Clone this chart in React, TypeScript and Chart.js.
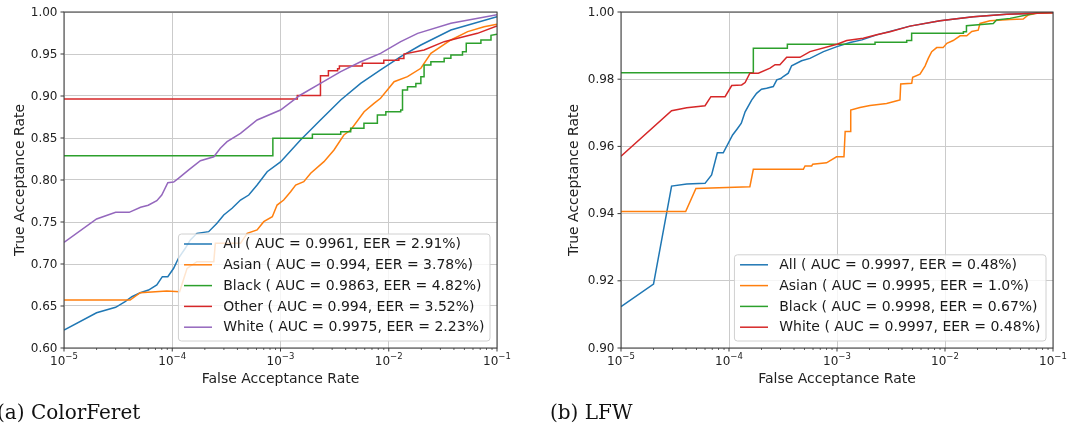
import React, { useEffect, useRef } from 'react';
import { Chart, registerables } from 'chart.js';

Chart.register(...registerables);

// ---------- ColorFeret ROC curves: [false acceptance rate, true acceptance rate] ----------
const cfAll: [number, number][] = [
  [1e-5, 0.6214], [2.0e-5, 0.642], [3.0e-5, 0.6484], [3.67e-5, 0.6551], [4.24e-5, 0.661],
  [5.06e-5, 0.6658], [6.04e-5, 0.669], [7.2e-5, 0.675], [8.1e-5, 0.6849], [9.1e-5, 0.6849],
  [1.03e-4, 0.6949], [1.14e-4, 0.7068], [1.32e-4, 0.7187], [1.47e-4, 0.7286], [1.69e-4, 0.7365],
  [2.17e-4, 0.7385], [2.59e-4, 0.7484], [2.99e-4, 0.7583], [3.57e-4, 0.7663], [4.27e-4, 0.7762],
  [5.09e-4, 0.7821], [6.08e-4, 0.794], [7.53e-4, 0.8099], [1.0e-3, 0.8215], [1.53e-3, 0.8476],
  [2.34e-3, 0.8714], [3.6e-3, 0.8952], [5.5e-3, 0.9151], [8.4e-3, 0.931], [1.29e-2, 0.9468],
  [1.98e-2, 0.9607], [3.75e-2, 0.9786], [1e-1, 0.9944],
];
const cfAsian: [number, number][] = [
  [1e-5, 0.6571], [4.08e-5, 0.6571], [5.06e-5, 0.6658], [8.9e-5, 0.6679], [1.17e-4, 0.667],
  [1.26e-4, 0.68], [1.37e-4, 0.6948], [1.69e-4, 0.7028], [2.42e-4, 0.7028], [2.5e-4, 0.7246],
  [4.27e-4, 0.7246], [4.92e-4, 0.7365], [6.08e-4, 0.7405], [7.0e-4, 0.7504], [8.4e-4, 0.7563],
  [9.3e-4, 0.7702], [1.07e-3, 0.7762], [1.24e-3, 0.7861], [1.38e-3, 0.794], [1.64e-3, 0.798],
  [1.9e-3, 0.808], [2.52e-3, 0.8218], [3.12e-3, 0.8357], [3.85e-3, 0.8536], [4.45e-3, 0.8595],
  [5.92e-3, 0.8813], [7.31e-3, 0.8913], [8.4e-3, 0.8973], [9.7e-3, 0.9071], [1.12e-2, 0.917],
  [1.49e-2, 0.923], [1.98e-2, 0.933], [2.45e-2, 0.9508], [3.75e-2, 0.9667], [5.36e-2, 0.9766],
  [7.6e-2, 0.9825], [1e-1, 0.9855],
];
const cfBlack: [number, number][] = [
  [1e-5, 0.8289], [8.5e-4, 0.8289], [8.5e-4, 0.8496], [1.97e-3, 0.8496], [1.97e-3, 0.8544],
  [3.6e-3, 0.8544], [3.6e-3, 0.8575], [4.45e-3, 0.8575], [4.45e-3, 0.8615], [5.9e-3, 0.8615],
  [5.9e-3, 0.8675], [7.85e-3, 0.8675], [7.85e-3, 0.8774], [9.4e-3, 0.8774], [9.4e-3, 0.8813],
  [1.29e-2, 0.8813], [1.29e-2, 0.8833], [1.34e-2, 0.8833], [1.34e-2, 0.9071], [1.49e-2, 0.9071],
  [1.49e-2, 0.9111], [1.78e-2, 0.9111], [1.78e-2, 0.915], [1.98e-2, 0.915], [1.98e-2, 0.923],
  [2.12e-2, 0.923], [2.12e-2, 0.9369], [2.45e-2, 0.9369], [2.45e-2, 0.9409], [3.25e-2, 0.9409],
  [3.25e-2, 0.9448], [3.75e-2, 0.9448], [3.75e-2, 0.9488], [4.8e-2, 0.9488], [4.8e-2, 0.9527],
  [5.2e-2, 0.9527], [5.2e-2, 0.9627], [7.1e-2, 0.9627], [7.1e-2, 0.9667], [8.8e-2, 0.9667],
  [8.8e-2, 0.9722], [1e-1, 0.9734],
];
const cfOther: [number, number][] = [
  [1e-5, 0.8964], [1.43e-3, 0.8964], [1.43e-3, 0.9005], [2.34e-3, 0.9005], [2.34e-3, 0.924],
  [2.77e-3, 0.924], [2.77e-3, 0.93], [3.37e-3, 0.93], [3.37e-3, 0.9325], [3.5e-3, 0.9325],
  [3.5e-3, 0.9357], [5.7e-3, 0.9357], [5.7e-3, 0.939], [9.0e-3, 0.939], [9.0e-3, 0.9425],
  [1.24e-2, 0.9425], [1.24e-2, 0.9445], [1.38e-2, 0.9445], [1.38e-2, 0.95], [2.12e-2, 0.9548],
  [3.25e-2, 0.9647], [4.33e-2, 0.9687], [6.6e-2, 0.9746], [1e-1, 0.9833],
];
const cfWhite: [number, number][] = [
  [1e-5, 0.7258], [2.0e-5, 0.7536], [3.0e-5, 0.7615], [4.0e-5, 0.7615], [5.1e-5, 0.7675],
  [6.0e-5, 0.7699], [7.2e-5, 0.7754], [8.0e-5, 0.7821], [9.1e-5, 0.7968], [1.03e-4, 0.7976],
  [1.14e-4, 0.802], [1.42e-4, 0.812], [1.82e-4, 0.823], [2.42e-4, 0.8277], [2.78e-4, 0.8377],
  [3.21e-4, 0.8456], [4.27e-4, 0.8556], [6.08e-4, 0.8714], [1.0e-3, 0.8833], [1.53e-3, 0.9012],
  [2.34e-3, 0.915], [3.6e-3, 0.929], [5.5e-3, 0.9408], [8.4e-3, 0.9508], [1.29e-2, 0.9647],
  [1.85e-2, 0.9746], [3.75e-2, 0.9865], [1e-1, 0.9968],
];

const cfGroups = ['All', 'Asian', 'Black', 'Other', 'White'];
const cfAuc = ['0.9961', '0.994', '0.9863', '0.994', '0.9975'];
const cfEer = ['2.91', '3.78', '4.82', '3.52', '2.23'];
const cfTarTicks = [0.6, 0.65, 0.7, 0.75, 0.8, 0.85, 0.9, 0.95, 1.0];

// ---------- LFW ROC curves ----------
const lfwAll: [number, number][] = [
  [1e-5, 0.9123], [2.0e-5, 0.919], [2.94e-5, 0.9482], [4.06e-5, 0.9488], [6.0e-5, 0.9490],
  [6.9e-5, 0.9515], [7.8e-5, 0.9581], [8.85e-5, 0.9581], [1.08e-4, 0.9634], [1.19e-4, 0.9652],
  [1.3e-4, 0.9669], [1.41e-4, 0.9703], [1.62e-4, 0.9738], [1.8e-4, 0.9758], [2.0e-4, 0.977],
  [2.23e-4, 0.9773], [2.57e-4, 0.9778], [2.77e-4, 0.9798], [3.02e-4, 0.9802], [3.18e-4, 0.9808],
  [3.54e-4, 0.9818], [3.8e-4, 0.9840], [4.7e-4, 0.9855], [5.62e-4, 0.9862], [7.5e-4, 0.9882],
  [1.0e-3, 0.9897], [1.32e-3, 0.9909], [1.7e-3, 0.9917], [2.33e-3, 0.9932], [4.74e-3, 0.9958],
  [9.0e-3, 0.9974], [1.83e-2, 0.9986], [3.72e-2, 0.9993], [1e-1, 0.9998],
];
const lfwAsian: [number, number][] = [
  [1e-5, 0.9406], [3.97e-5, 0.9406], [4.94e-5, 0.9475], [1.56e-4, 0.948], [1.68e-4, 0.9532],
  [4.88e-4, 0.9532], [5.06e-4, 0.9542], [5.83e-4, 0.9542], [5.96e-4, 0.9547], [8.0e-4, 0.9551],
  [9.9e-4, 0.9569], [1.16e-3, 0.9569], [1.19e-3, 0.9644], [1.32e-3, 0.9644], [1.34e-3, 0.9708],
  [1.63e-3, 0.9716], [2.02e-3, 0.9722], [2.88e-3, 0.9728], [3.52e-3, 0.9735], [3.83e-3, 0.9738],
  [3.89e-3, 0.9786], [4.92e-3, 0.9788], [5.02e-3, 0.9806], [5.87e-3, 0.9815], [6.53e-3, 0.9839],
  [7.0e-3, 0.9862], [7.53e-3, 0.9882], [8.38e-3, 0.9894], [9.6e-3, 0.9894], [1.04e-2, 0.9907],
  [1.19e-2, 0.9915], [1.38e-2, 0.9929], [1.59e-2, 0.9929], [1.77e-2, 0.9942], [2.03e-2, 0.9946],
  [2.11e-2, 0.9966], [2.61e-2, 0.9974], [4.0e-2, 0.9978], [5.3e-2, 0.9979], [5.9e-2, 0.9991],
  [7.06e-2, 0.9996], [1e-1, 0.9998],
];
const lfwBlack: [number, number][] = [
  [1e-5, 0.9819], [1.68e-4, 0.9819], [1.68e-4, 0.9892], [3.47e-4, 0.9892], [3.47e-4, 0.9904],
  [2.25e-3, 0.9904], [2.25e-3, 0.991], [4.42e-3, 0.991], [4.42e-3, 0.9915], [4.91e-3, 0.9915],
  [4.91e-3, 0.9937], [1.48e-2, 0.9937], [1.48e-2, 0.9941], [1.58e-2, 0.9941], [1.58e-2, 0.9959],
  [2.8e-2, 0.9966], [3.0e-2, 0.9976], [4.0e-2, 0.9981], [6.8e-2, 0.9996], [7.3e-2, 1.0],
  [1e-1, 1.0],
];
const lfwWhite: [number, number][] = [
  [1e-5, 0.9571], [2.94e-5, 0.9706], [4.06e-5, 0.9715], [6.0e-5, 0.9721], [6.8e-5, 0.9748],
  [9.2e-5, 0.9748], [1.06e-4, 0.9781], [1.31e-4, 0.9783], [1.41e-4, 0.979], [1.56e-4, 0.9818],
  [1.87e-4, 0.9818], [2.4e-4, 0.9833], [2.67e-4, 0.9843], [2.96e-4, 0.9843], [3.42e-4, 0.9865],
  [4.54e-4, 0.9865], [5.62e-4, 0.9882], [1.0e-3, 0.9904], [1.23e-3, 0.9915], [1.75e-3, 0.9922],
  [2.33e-3, 0.9932], [3.1e-3, 0.9941], [4.74e-3, 0.9958], [9.0e-3, 0.9974], [1.83e-2, 0.9986],
  [3.72e-2, 0.9993], [1e-1, 0.9998],
];

const lfwGroups = ['All', 'Asian', 'Black', 'White'];
const lfwAuc = ['0.9997', '0.9995', '0.9998', '0.9997'];
const lfwEer = ['0.48', '1.0', '0.67', '0.48'];
const lfwTarTicks = [0.9, 0.92, 0.94, 0.96, 0.98, 1.0];

const farExponents = [-5, -4, -3, -2, -1];

// ---------- styling ----------
const BLUE = '#1f77b4';
const ORANGE = '#ff7f0e';
const GREEN = '#2ca02c';
const RED = '#d62728';
const PURPLE = '#9467bd';
const GRID = '#cbcbcb';
const SANS = '"DejaVu Sans", sans-serif';
const SERIF = '"DejaVu Serif", serif';

type Series = { label: string; color: string; points: [number, number][] };

type Decor = {
  yTicks: number[];
  yTitleGap: number;
  caption: string;
  captionX: number;
};

const isDecade = (v: number) => {
  if (!(v > 0)) return false;
  const l = Math.log10(v);
  return Math.abs(l - Math.round(l)) < 1e-6;
};

const decorPlugin = {
  id: 'decor',
  afterDatasetsDraw(chart: any, _args: any, opts: Decor) {
    const ctx: CanvasRenderingContext2D = chart.ctx;
    const { left, right, top, bottom } = chart.chartArea;
    const xs = chart.scales.x;
    const ys = chart.scales.y;
    ctx.save();

    // axes frame
    ctx.strokeStyle = '#3a3a3a';
    ctx.lineWidth = 1;
    ctx.strokeRect(left, top, right - left, bottom - top);

    // y ticks and labels
    ctx.fillStyle = '#222';
    ctx.font = `12px ${SANS}`;
    ctx.textAlign = 'right';
    ctx.textBaseline = 'middle';
    for (const v of opts.yTicks) {
      const py = ys.getPixelForValue(v);
      ctx.beginPath();
      ctx.moveTo(left - 3.5, py);
      ctx.lineTo(left, py);
      ctx.stroke();
      ctx.fillText(v.toFixed(2), left - 6.5, py + 0.5);
    }

    // x ticks (major + minor) and labels 10^k
    for (let i = 0; i < farExponents.length; i++) {
      const e = farExponents[i];
      const px = xs.getPixelForValue(Math.pow(10, e));
      ctx.lineWidth = 1;
      ctx.beginPath();
      ctx.moveTo(px, bottom);
      ctx.lineTo(px, bottom + 3.5);
      ctx.stroke();
      if (i < farExponents.length - 1) {
        ctx.lineWidth = 0.8;
        for (let k = 2; k <= 9; k++) {
          const pm = xs.getPixelForValue(k * Math.pow(10, e));
          ctx.beginPath();
          ctx.moveTo(pm, bottom);
          ctx.lineTo(pm, bottom + 2);
          ctx.stroke();
        }
      }
      const base = '10';
      const sup = '\u2212' + String(Math.abs(e));
      ctx.font = `12px ${SANS}`;
      const wb = ctx.measureText(base).width;
      ctx.font = `8.5px ${SANS}`;
      const ws = ctx.measureText(sup).width;
      const x0 = px - (wb + ws) / 2;
      ctx.textAlign = 'left';
      ctx.textBaseline = 'alphabetic';
      ctx.font = `12px ${SANS}`;
      ctx.fillText(base, x0, bottom + 17);
      ctx.font = `8.5px ${SANS}`;
      ctx.fillText(sup, x0 + wb, bottom + 10.5);
    }

    // axis titles
    ctx.font = `14px ${SANS}`;
    ctx.textAlign = 'center';
    ctx.textBaseline = 'alphabetic';
    ctx.fillStyle = '#222';
    ctx.fillText('False Acceptance Rate', (left + right) / 2, bottom + 34.5);
    ctx.save();
    ctx.translate(left - opts.yTitleGap, (top + bottom) / 2);
    ctx.rotate(-Math.PI / 2);
    ctx.fillText('True Acceptance Rate', 0, 0);
    ctx.restore();

    // legend, lower right inside the axes
    const fs = 14;
    ctx.font = `${fs}px ${SANS}`;
    const items = chart.data.datasets.map((d: any) => ({ label: d.label as string, color: d.borderColor as string }));
    const maxW = Math.max(...items.map((it: any) => ctx.measureText(it.label).width));
    const pad = 0.4 * fs;
    const handle = 2 * fs;
    const gap = 0.8 * fs;
    const rowH = 20.8;
    const boxW = pad + handle + gap + maxW + pad;
    const boxH = items.length * rowH + 3;
    const bx = right - 0.5 * fs - boxW;
    const by = bottom - 0.5 * fs - boxH;
    const r = 3;
    ctx.beginPath();
    ctx.moveTo(bx + r, by);
    ctx.lineTo(bx + boxW - r, by);
    ctx.quadraticCurveTo(bx + boxW, by, bx + boxW, by + r);
    ctx.lineTo(bx + boxW, by + boxH - r);
    ctx.quadraticCurveTo(bx + boxW, by + boxH, bx + boxW - r, by + boxH);
    ctx.lineTo(bx + r, by + boxH);
    ctx.quadraticCurveTo(bx, by + boxH, bx, by + boxH - r);
    ctx.lineTo(bx, by + r);
    ctx.quadraticCurveTo(bx, by, bx + r, by);
    ctx.closePath();
    ctx.fillStyle = 'rgba(255,255,255,0.8)';
    ctx.fill();
    ctx.strokeStyle = '#d0d0d0';
    ctx.lineWidth = 1;
    ctx.stroke();
    ctx.textAlign = 'left';
    ctx.textBaseline = 'middle';
    items.forEach((it: any, i: number) => {
      const cy = by + 10 + i * rowH;
      ctx.strokeStyle = it.color;
      ctx.lineWidth = 1.5;
      ctx.beginPath();
      ctx.moveTo(bx + pad, cy);
      ctx.lineTo(bx + pad + handle, cy);
      ctx.stroke();
      ctx.fillStyle = '#1a1a1a';
      ctx.fillText(it.label, bx + pad + handle + gap, cy + 0.5);
    });

    // subfigure caption
    ctx.font = `20px ${SERIF}`;
    ctx.fillStyle = '#111';
    ctx.textAlign = 'left';
    ctx.textBaseline = 'alphabetic';
    ctx.fillText(opts.caption, opts.captionX, 418.5);

    ctx.restore();
  },
};

type RocProps = {
  series: Series[];
  yMin: number;
  yMax: number;
  yStep: number;
  yTicks: number[];
  canvasLeft: number;
  canvasWidth: number;
  yAxisWidth: number;
  padRight: number;
  yTitleGap: number;
  caption: string;
  captionX: number;
};

function RocChart(p: RocProps) {
  const ref = useRef<HTMLCanvasElement | null>(null);
  const H = 426;
  useEffect(() => {
    if (!ref.current) return;
    const n = p.series.length;
    const chart = new Chart(ref.current, {
      type: 'line',
      data: {
        datasets: p.series.map((s, i) => ({
          label: s.label,
          data: s.points.map(([x, y]) => ({ x, y })),
          borderColor: s.color,
          backgroundColor: s.color,
          borderWidth: 1.5,
          pointRadius: 0,
          fill: false,
          tension: 0,
          order: n - i,
        })),
      },
      options: {
        responsive: false,
        animation: false,
        layout: { padding: { left: 0, right: p.padRight, top: 12, bottom: 0 } },
        plugins: {
          legend: { display: false },
          tooltip: { enabled: false },
          decor: { yTicks: p.yTicks, yTitleGap: p.yTitleGap, caption: p.caption, captionX: p.captionX },
        } as any,
        scales: {
          x: {
            type: 'logarithmic',
            min: 1e-5,
            max: 1e-1,
            ticks: { display: false },
            grid: {
              drawTicks: false,
              lineWidth: 1,
              color: (c: any) => (c.tick && isDecade(c.tick.value) ? GRID : 'rgba(0,0,0,0)'),
            },
            border: { display: false },
            afterFit: (s: any) => {
              s.height = H - 348;
            },
          },
          y: {
            type: 'linear',
            min: p.yMin,
            max: p.yMax,
            ticks: { display: false, stepSize: p.yStep },
            grid: { drawTicks: false, lineWidth: 1, color: GRID },
            border: { display: false },
            afterFit: (s: any) => {
              s.width = p.yAxisWidth;
            },
          },
        },
      } as any,
      plugins: [decorPlugin],
    });
    return () => chart.destroy();
  }, []);
  return (
    <canvas
      ref={ref}
      width={p.canvasWidth}
      height={H}
      style={{ position: 'absolute', left: p.canvasLeft, top: 0, width: p.canvasWidth, height: H }}
    />
  );
}

const legendLabel = (g: string, auc: string, eer: string) => `${g} ( AUC = ${auc}, EER = ${eer}%)`;

export default function App() {
  const cfCurves = [cfAll, cfAsian, cfBlack, cfOther, cfWhite];
  const cfColors = [BLUE, ORANGE, GREEN, RED, PURPLE];
  const cfSeries: Series[] = cfGroups.map((g, i) => ({
    label: legendLabel(g, cfAuc[i], cfEer[i]),
    color: cfColors[i],
    points: cfCurves[i],
  }));
  const lfwCurves = [lfwAll, lfwAsian, lfwBlack, lfwWhite];
  const lfwColors = [BLUE, ORANGE, GREEN, RED];
  const lfwSeries: Series[] = lfwGroups.map((g, i) => ({
    label: legendLabel(g, lfwAuc[i], lfwEer[i]),
    color: lfwColors[i],
    points: lfwCurves[i],
  }));
  return (
    <div style={{ position: 'absolute', left: 0, top: 0, width: 1069, height: 426, background: '#fff', overflow: 'hidden' }}>
      <RocChart
        series={cfSeries}
        yMin={0.6}
        yMax={1.0}
        yStep={0.05}
        yTicks={cfTarTicks}
        canvasLeft={0}
        canvasWidth={520}
        yAxisWidth={64}
        padRight={23}
        yTitleGap={40.5}
        caption="(a) ColorFeret"
        captionX={-3}
      />
      <RocChart
        series={lfwSeries}
        yMin={0.9}
        yMax={1.0}
        yStep={0.02}
        yTicks={lfwTarTicks}
        canvasLeft={540}
        canvasWidth={529}
        yAxisWidth={81}
        padRight={16}
        yTitleGap={43.5}
        caption="(b) LFW"
        captionX={10}
      />
    </div>
  );
}
